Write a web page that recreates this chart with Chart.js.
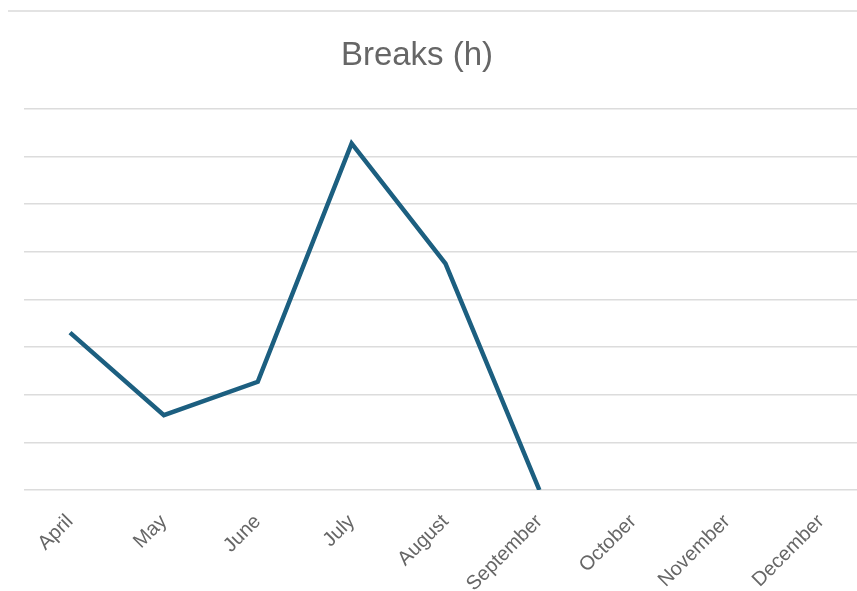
<!DOCTYPE html>
<html>
<head>
<meta charset="utf-8">
<title>Breaks (h)</title>
<script src="https://cdn.jsdelivr.net/npm/chart.js@4/dist/chart.umd.min.js"></script>
<style>
  html, body { margin: 0; padding: 0; background: #fff; overflow: hidden; }
  body { width: 857px; height: 591px; position: relative; }
  .rule { position: absolute; left: 8px; right: 0; top: 10px; height: 0; border-top: 2px solid #e3e3e3; }
  .wrap { position: absolute; left: -23px; top: 0; width: 880px; height: 591px; }
</style>
</head>
<body>
<div class="rule"></div>
<div class="wrap"><canvas id="chart" width="880" height="591"></canvas></div>
<script>
// Months shown on the category axis
const months = ['April', 'May', 'June', 'July', 'August', 'September', 'October', 'November', 'December'];
// Break hours per month (no data yet after September)
const breakHours = [3.3, 1.57, 2.27, 7.27, 4.75, 0, null, null, null];
// Value axis range and step for the horizontal guide lines
const yMin = 0;
const yMax = 8;
const yStep = 1;

const gridColor = '#dcdcdc';
const textColor = '#666666';
const fontFamily = '"Liberation Sans", Roboto, sans-serif';

new Chart(document.getElementById('chart'), {
  type: 'line',
  data: {
    labels: months,
    datasets: [{
      label: 'Breaks (h)',
      data: breakHours,
      borderColor: '#1c5f80',
      backgroundColor: '#1c5f80',
      borderWidth: 4.5,
      pointRadius: 0,
      pointHoverRadius: 0,
      tension: 0,
      spanGaps: false,
      fill: false
    }]
  },
  options: {
    responsive: false,
    animation: false,
    layout: { padding: { left: 0, right: 0, top: 0, bottom: 0 } },
    plugins: {
      legend: { display: false },
      tooltip: { enabled: false },
      title: {
        display: true,
        text: 'Breaks (h)',
        color: textColor,
        font: { family: fontFamily, size: 33, weight: 'normal', lineHeight: 1.2 },
        padding: { top: 36, bottom: 33 }
      }
    },
    scales: {
      x: {
        type: 'category',
        offset: false,
        grid: { display: false },
        border: { display: false },
        ticks: {
          color: textColor,
          font: { family: fontFamily, size: 20 },
          maxRotation: 45,
          minRotation: 45,
          autoSkip: false,
          padding: 12
        },
        afterFit: (scale) => { scale.height = 101; }
      },
      y: {
        position: 'left',
        min: yMin,
        max: yMax,
        border: { display: false },
        grid: { color: gridColor, lineWidth: 1.5, drawTicks: true, tickLength: 46, tickColor: gridColor, tickWidth: 1.5 },
        ticks: { display: false, stepSize: yStep },
        afterFit: (scale) => { scale.width = 93; }
      },
      yRight: {
        position: 'right',
        min: yMin,
        max: yMax,
        border: { display: false },
        grid: { color: gridColor, lineWidth: 1.5, drawOnChartArea: false, drawTicks: true, tickLength: 36, tickColor: gridColor, tickWidth: 1.5 },
        ticks: { display: false, stepSize: yStep },
        afterFit: (scale) => { scale.width = 36; }
      }
    }
  }
});
</script>
</body>
</html>
